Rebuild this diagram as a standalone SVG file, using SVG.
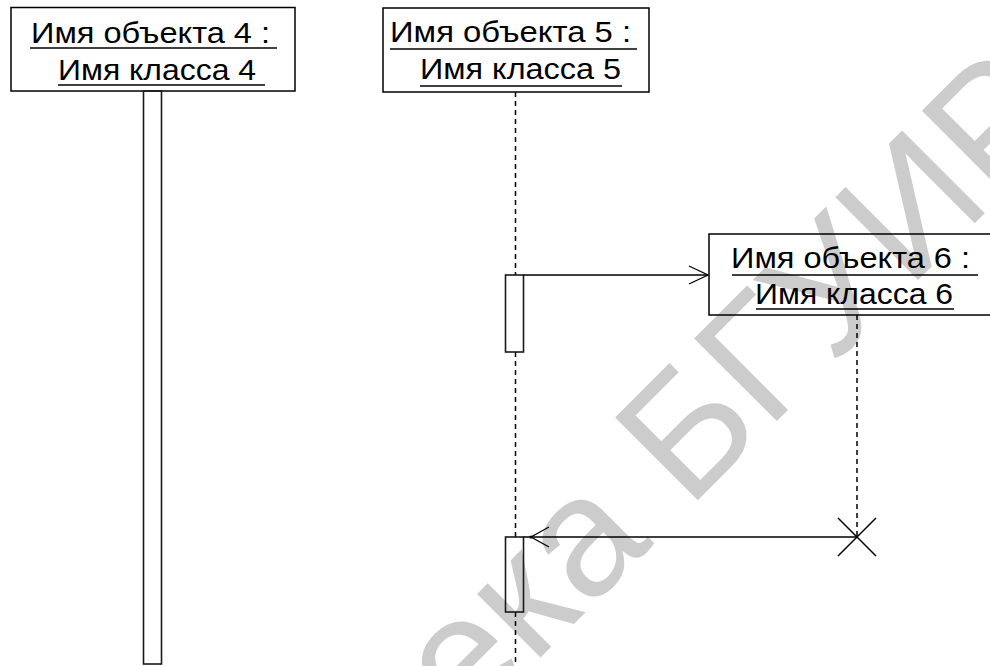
<svg xmlns="http://www.w3.org/2000/svg" width="990" height="666" viewBox="0 0 990 666">
<style>
.bg{fill:#ffffff}
.wm{font-family:"Liberation Sans",Arial,sans-serif;font-size:170px;fill:#cccccc}
.box{fill:none;stroke:#000;stroke-width:1.5}
.bar{fill:none;stroke:#1a1a1a;stroke-width:1.6}
.lbl{font-family:"Liberation Sans",Arial,sans-serif;font-size:30px;fill:#000}
.ul{stroke:#000;stroke-width:1.5}
.life{stroke:#000;stroke-width:1.5;stroke-dasharray:5 4;fill:none}
.msg{stroke:#000;stroke-width:1.5;fill:none}
.head{stroke:#000;stroke-width:1.3;fill:none}
</style>
<rect class="bg" x="0" y="0" width="990" height="666"/>
<text class="wm" transform="translate(1 1197) rotate(-45)" x="0" y="0">Библиотека БГУИР</text>

<g id="obj4">
  <rect class="box" x="11" y="7.5" width="284" height="83.5"/>
  <text class="lbl" x="31" y="43" textLength="239" lengthAdjust="spacingAndGlyphs">Имя объекта 4 :</text>
  <line class="ul" x1="30" y1="48" x2="277" y2="48"/>
  <text class="lbl" x="58" y="80" textLength="198" lengthAdjust="spacingAndGlyphs">Имя класса 4</text>
  <line class="ul" x1="58" y1="85" x2="265" y2="85"/>
  <rect class="bar" x="143.5" y="91" width="18" height="573"/>
</g>

<g id="obj5">
  <rect class="box" x="383" y="8" width="266" height="84"/>
  <text class="lbl" x="390" y="42" textLength="241" lengthAdjust="spacingAndGlyphs">Имя объекта 5 :</text>
  <line class="ul" x1="390" y1="49" x2="637" y2="49"/>
  <text class="lbl" x="420" y="79" textLength="201" lengthAdjust="spacingAndGlyphs">Имя класса 5</text>
  <line class="ul" x1="420" y1="86" x2="622" y2="86"/>
  <line class="life" x1="515.5" y1="92" x2="515.5" y2="275"/>
  <rect class="bar" x="505.5" y="275" width="18" height="77"/>
  <line class="life" x1="515.5" y1="352" x2="515.5" y2="537"/>
  <rect class="bar" x="505.5" y="537" width="18" height="75"/>
  <line class="life" x1="515.5" y1="612" x2="515.5" y2="666"/>
</g>

<g id="obj6">
  <rect class="box" x="709" y="234" width="300" height="81"/>
  <text class="lbl" x="731" y="268" textLength="239" lengthAdjust="spacingAndGlyphs">Имя объекта 6 :</text>
  <line class="ul" x1="732" y1="275" x2="978" y2="275"/>
  <text class="lbl" x="755" y="304" textLength="198" lengthAdjust="spacingAndGlyphs">Имя класса 6</text>
  <line class="ul" x1="756" y1="309" x2="954" y2="309"/>
  <line class="life" x1="857" y1="315" x2="857" y2="537"/>
  <path class="msg" d="M838 518 L876 556 M876 518 L838 556"/>
</g>

<g id="connectors">
  <line class="msg" x1="523.5" y1="275" x2="708" y2="275"/>
  <path class="head" d="M689 266 L708 275 L689 284"/>
  <line class="msg" x1="857" y1="537" x2="523.5" y2="537"/>
  <path class="head" d="M549 527 L531 537 L549 547"/>
  <circle cx="531" cy="537" r="1.5" fill="#000"/>
</g>
</svg>
